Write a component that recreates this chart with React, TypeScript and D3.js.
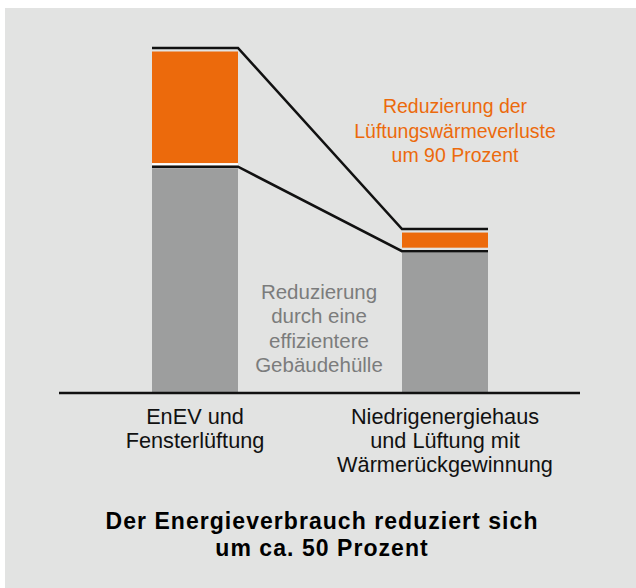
import React from "react";
import * as d3 from "d3";

// data (arbitrary units)
const categories = ["EnEV und\nFensterlüftung", "Niedrigenergiehaus\nund Lüftung mit\nWärmerückgewinnung"];
const buildingLoss = [225, 141]; // grey part: Gebäudehülle
const ventilationLoss = [118, 22]; // orange part: Lüftungswärmeverluste
const orangeNote = ["Reduzierung der", "Lüftungswärmeverluste", "um 90 Prozent"];
const greyNote = ["Reduzierung", "durch eine", "effizientere", "Gebäudehülle"];
const title = ["Der Energieverbrauch reduziert sich", "um ca. 50 Prozent"];

const W = 636, H = 588;
const baseY = 393;
const barW = 86;
const FONT = "'Liberation Sans', Arial, sans-serif";
const ORANGE = "#ec6a0c";
const GREY = "#9d9e9e";
const BG = "#e2e3e2";

export default function App() {
  const x = d3.scalePoint<string>().domain(categories).range([195, 445]);
  const totals = buildingLoss.map((g, i) => g + ventilationLoss[i]);
  const y = d3.scaleLinear().domain([0, d3.max(totals) as number]).range([baseY, 48]);

  // connectors: segment tops run across each bar and link to the next bar
  const link = (vals: number[]) => {
    const pts: [number, number][] = [];
    categories.forEach((c, i) => {
      const cx = x(c) as number;
      pts.push([cx - barW / 2, y(vals[i])]);
      pts.push([cx + barW / 2, y(vals[i])]);
    });
    return d3.line()(pts) as string;
  };

  return (
    <svg width={W} height={H} style={{ position: "absolute", left: 0, top: 0, display: "block" }}>
      <rect x={5} y={8} width={W - 5} height={H - 8} fill={BG} />

      {categories.map((c, i) => {
        const cx = x(c) as number;
        const gTop = y(buildingLoss[i]);
        const tTop = y(totals[i]);
        return (
          <g key={c}>
            <rect x={cx - barW / 2} y={gTop + 1.5} width={barW} height={baseY - gTop - 1.5} fill={GREY} />
            <rect x={cx - barW / 2} y={tTop + 3.5} width={barW} height={gTop - tTop - 7} fill={ORANGE} />
            {i === 0 && <rect x={cx - barW / 2} y={gTop - 3.5} width={barW} height={2} fill="#fff" />}
          </g>
        );
      })}

      <path d={link(totals)} fill="none" stroke="#111" strokeWidth={2.6} />
      <path d={link(buildingLoss)} fill="none" stroke="#111" strokeWidth={2.6} />

      <line x1={59} x2={580} y1={baseY} y2={baseY} stroke="#111" strokeWidth={2.6} />

      <g fontFamily={FONT} textAnchor="middle">
        {orangeNote.map((t, i) => (
          <text key={t} x={455} y={113 + i * 24.5} fill={ORANGE} fontSize={19.5}>{t}</text>
        ))}
        {greyNote.map((t, i) => (
          <text key={t} x={319} y={299 + i * 24.3} fill="#7b7c7c" fontSize={20.5}>{t}</text>
        ))}
        {categories.map((c) =>
          c.split("\n").map((t, j) => (
            <text key={c + j} x={(x(c) as number) + (c.startsWith("EnEV") ? 0 : 0)} y={424 + j * 24} fill="#111" fontSize={21.7}>{t}</text>
          ))
        )}
      </g>

      <g fontFamily={FONT} fontSize={23} fontWeight="bold" textAnchor="middle" letterSpacing={1.05}>
        {title.map((t, i) => (
          <text key={t} x={322} y={529 + i * 27} fill="#000">{t}</text>
        ))}
      </g>
    </svg>
  );
}
